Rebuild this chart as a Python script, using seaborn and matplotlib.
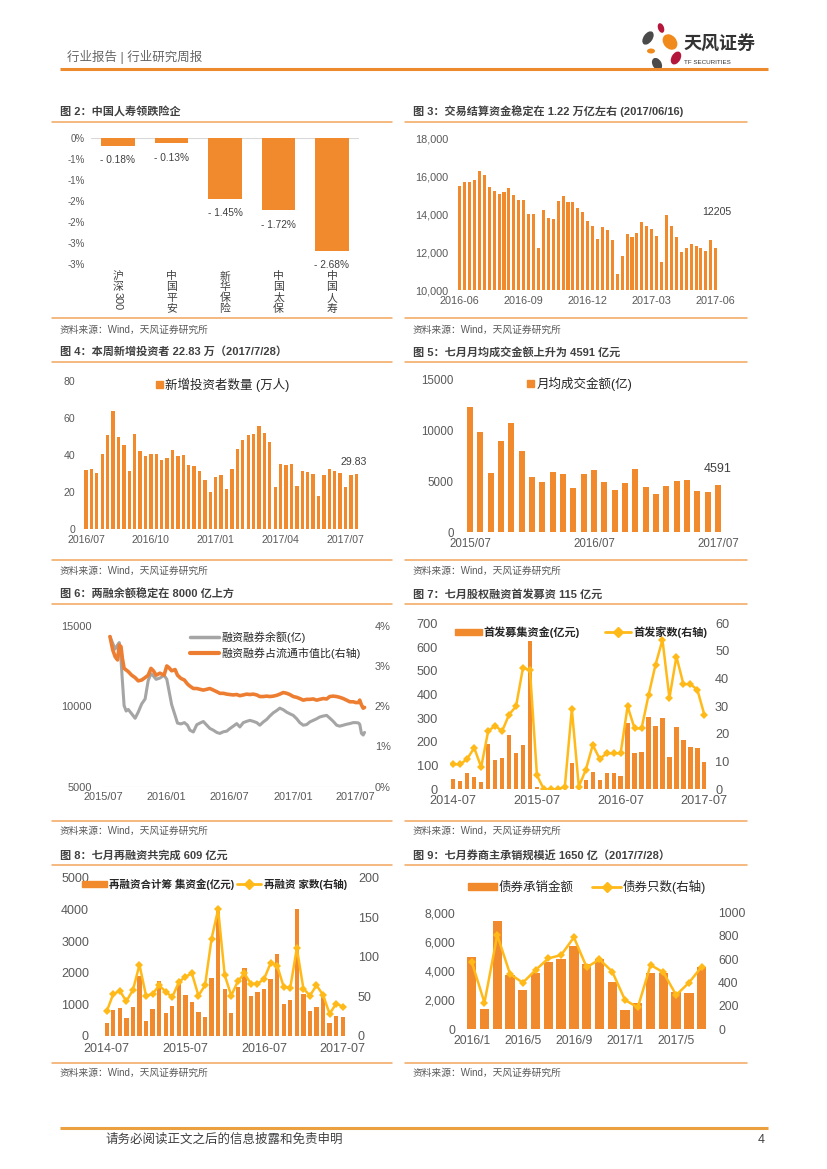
import numpy as np
import pandas as pd
import matplotlib
matplotlib.use('Agg')
import matplotlib.pyplot as plt
import seaborn as sns
from matplotlib.patches import Patch, Ellipse
from matplotlib.lines import Line2D
from matplotlib.transforms import blended_transform_factory

# 图2 险企涨跌幅
ins_names = ['沪深300', '中国平安', '新华保险', '中国太保', '中国人寿']
ins_chg = [-0.18, -0.13, -1.45, -1.72, -2.68]
ins_ticks = ['-3%', '-3%', '-2%', '-2%', '-1%', '-1%', '0%']

# 图3 交易结算资金(亿元), 周度
settle_start = '2016-06-17'
settle_vals = [15490, 15700, 15720, 15810, 16260, 16050, 15440, 15210, 15050, 15170,
               15400, 15020, 14740, 14740, 14000, 14020, 12230, 14210, 13820, 13770,
               14680, 14950, 14650, 14650, 14330, 14100, 13650, 13390, 12680, 13330,
               13160, 12630, 10880, 11810, 12950, 12790, 13030, 13600, 13370, 13210,
               12860, 11510, 13950, 13400, 12820, 12030, 12250, 12460, 12330, 12230,
               12050, 12630, 12205]

# 图4 新增投资者数量(万人), 周度
new_inv = [32.0, 32.2, 30.2, 40.5, 50.7, 63.5, 49.6, 45.1, 31.5, 51.1,
           42.1, 39.2, 40.3, 40.5, 37.1, 38.5, 42.4, 39.4, 39.9, 34.7,
           34.2, 31.1, 26.6, 20.0, 27.9, 29.0, 21.8, 32.4, 43.0, 47.8,
           50.5, 51.3, 55.8, 52.0, 46.9, 22.5, 35.1, 34.5, 35.3, 23.4,
           31.3, 30.6, 29.7, 17.8, 29.3, 32.6, 31.1, 30.0, 22.7, 29.1,
           29.83]
new_inv_ticks = ['2016/07', '2016/10', '2017/01', '2017/04', '2017/07']

# 图5 月均成交金额(亿)
turnover = [12330, 9840, 5850, 8930, 10690, 7980, 5460, 4940, 5890, 5760,
            4350, 5760, 6080, 4940, 4150, 4870, 6210, 4480, 3760, 4510,
            5070, 5130, 4090, 3920, 4591]

# 图6 两融余额(亿) / 占流通市值比(%)
margin_dates = ['2015-07-20', '2015-07-28', '2015-08-04', '2015-08-11', '2015-08-16',
                '2015-08-21', '2015-08-25', '2015-08-30', '2015-09-05', '2015-09-11',
                '2015-09-21', '2015-10-01', '2015-10-10', '2015-10-20', '2015-10-30',
                '2015-11-08', '2015-11-16', '2015-11-23', '2015-12-01', '2015-12-12',
                '2015-12-24', '2016-01-01', '2016-01-07', '2016-01-15', '2016-01-25',
                '2016-02-01', '2016-02-11', '2016-02-21', '2016-03-01', '2016-03-08',
                '2016-03-18', '2016-03-28', '2016-04-06', '2016-04-16', '2016-04-26',
                '2016-05-05', '2016-05-15', '2016-05-25', '2016-06-03', '2016-06-13',
                '2016-06-23', '2016-07-02', '2016-07-12', '2016-07-22', '2016-07-31',
                '2016-08-10', '2016-08-20', '2016-08-29', '2016-09-08', '2016-09-18',
                '2016-09-27', '2016-10-07', '2016-10-17', '2016-10-26', '2016-11-05',
                '2016-11-15', '2016-11-24', '2016-12-04', '2016-12-14', '2016-12-23',
                '2017-01-02', '2017-01-12', '2017-01-21', '2017-01-31', '2017-02-10',
                '2017-02-19', '2017-03-01', '2017-03-11', '2017-03-20', '2017-03-30',
                '2017-04-09', '2017-04-18', '2017-04-28', '2017-05-08', '2017-05-17',
                '2017-05-27', '2017-06-06', '2017-06-15', '2017-06-25', '2017-07-03',
                '2017-07-10', '2017-07-14', '2017-07-19', '2017-07-24', '2017-07-28']
margin_bal = [14330, 13900, 13550, 13800, 13950, 12900, 11600, 10040, 9700, 9800,
              9530, 9250, 9630, 10140, 10450, 11600, 12020, 11880, 11670, 11750,
              11920, 11670, 11000, 10100, 9430, 8950, 8900, 8980, 8820, 8510,
              8400, 8850, 8950, 9050, 8820, 8620, 8510, 8370, 8310, 8410,
              8450, 8610, 8760, 8920, 8710, 8980, 9060, 9120, 9060, 8980,
              8820, 9020, 9180, 9390, 9590, 9730, 9880, 9780, 9630, 9530,
              9430, 9220, 8980, 8820, 8860, 9020, 9120, 9220, 9330, 9390,
              9430, 9260, 9060, 8820, 8760, 8820, 8880, 8920, 8980,
              8980, 8960, 8880, 8310, 8210, 8370]
margin_ratio = [3.73, 3.40, 3.23, 3.15, 3.52, 3.48, 3.19, 2.94, 2.90, 2.86,
                2.77, 2.71, 2.63, 2.65, 2.71, 2.77, 2.94, 2.88, 2.77, 2.82,
                2.77, 3.00, 2.96, 2.88, 2.91, 2.77, 2.69, 2.65, 2.55, 2.50,
                2.44, 2.44, 2.42, 2.40, 2.42, 2.44, 2.40, 2.36, 2.32, 2.32,
                2.30, 2.29, 2.28, 2.29, 2.26, 2.28, 2.30, 2.29, 2.30, 2.28,
                2.24, 2.24, 2.25, 2.24, 2.25, 2.27, 2.30, 2.34, 2.32, 2.29,
                2.24, 2.22, 2.19, 2.15, 2.17, 2.17, 2.18, 2.15, 2.17, 2.19,
                2.18, 2.24, 2.25, 2.24, 2.22, 2.19, 2.15, 2.11, 2.11,
                2.09, 2.09, 2.15, 2.03, 1.95, 1.97]

# 图7 首发募集资金(亿元) / 首发家数, 2014-07 起月度
ipo_amt = [45, 35, 67, 53, 30, 191, 122, 132, 228, 153,
           187, 626, 11, 0, 0, 0, 0, 111, 0, 39,
           73, 39, 70, 67, 58, 278, 152, 157, 306, 266,
           301, 135, 262, 208, 177, 173, 115]
ipo_cnt = [9, 9, 11, 15, 8, 21, 23, 21, 27, 30,
           44, 43, 5, 0, 0, 0, 1, 29, 1, 7,
           16, 11, 13, 13, 13, 30, 22, 22, 34, 45,
           54, 33, 48, 38, 38, 36, 27]

# 图8 再融资合计筹集资金(亿元) / 再融资家数, 2014-07 起月度
refi_amt = [420, 820, 885, 570, 905, 1895, 475, 840, 1725, 725,
            960, 1665, 1295, 1075, 750, 590, 1830, 3980, 1485, 725,
            1560, 2160, 1265, 1380, 1475, 1800, 2580, 1000, 1150, 4000,
            1325, 780, 925, 1240, 420, 630, 609]
refi_cnt = [31, 53, 57, 44, 58, 90, 51, 53, 64, 56,
            49, 68, 75, 79, 51, 64, 123, 160, 77, 51,
            69, 79, 66, 66, 72, 92, 89, 62, 61, 111,
            60, 51, 64, 52, 28, 41, 37]

# 图9 债券承销金额 / 债券只数, 2016-01 起月度
bond_amt = [4975, 1375, 7450, 3710, 2680, 3870, 4580, 4835, 5710, 4470,
            4790, 3210, 1305, 1765, 3830, 3830, 2570, 2500, 4285]
bond_cnt = [579, 226, 808, 473, 398, 507, 607, 636, 788, 530,
            599, 493, 249, 186, 550, 487, 292, 398, 536]

sns.set_theme(style='white')
plt.rcParams['font.family'] = ['Liberation Sans', 'Noto Sans CJK SC', 'DejaVu Sans']
plt.rcParams['axes.unicode_minus'] = False

ORANGE = '#F08A2C'
GOLD = '#FFBA1A'
GREY = '#595959'
DARK = '#404040'
RULE = '#F2A55C'
BAR_KW = dict(color=ORANGE, saturation=1, linewidth=0, edgecolor='none')

W, H = 827, 1169
fig = plt.figure(figsize=(W / 100, H / 100), dpi=100)
fig.patch.set_facecolor('white')

# 整页的像素坐标层
ov = fig.add_axes([0, 0, 1, 1], zorder=10)
ov.set_xlim(0, W)
ov.set_ylim(H, 0)
ov.axis('off')


def box(l, t, r, b):
    a = fig.add_axes([l / W, 1 - b / H, (r - l) / W, (b - t) / H])
    a.patch.set_alpha(0)
    for s in a.spines.values():
        s.set_visible(False)
    return a


def style(a, size, ypad, xpad):
    a.tick_params(axis='both', length=0, labelsize=size, labelcolor=GREY)
    a.tick_params(axis='y', pad=ypad)
    a.tick_params(axis='x', pad=xpad)
    a.set_xlabel('')
    a.set_ylabel('')
    for s in a.spines.values():
        s.set_visible(False)


# 页眉
ov.text(67, 57, '行业报告 | 行业研究周报', fontsize=9, color='#666666', va='center')
ov.plot([60, 768], [69, 69], color='#EE8A2E', lw=2.2, solid_capstyle='butt')
petals = [(648, 38, 9, 15, 35, '#4A4A4A'), (661, 28, 6, 10, -20, '#B5173C'),
          (670, 42, 13, 17, -40, '#F08A1C'), (651, 51, 8, 5, 0, '#F08A1C'),
          (676, 58, 9, 14, 30, '#B5173C'), (657, 64, 9, 13, -30, '#4A4A4A')]
for cx, cy, w, h, ang, col in petals:
    ov.add_patch(Ellipse((cx, cy), w, h, angle=ang, color=col, lw=0))
ov.text(683, 45, '天风证券', fontsize=13, fontweight='bold', color='#333333', va='center')
ov.text(684, 62, 'TF SECURITIES', fontsize=4.5, color='#333333', va='center')

# 各图标题、分隔线、资料来源
panels = [(52, 392, 111, 122, 318, 330, '图 2：中国人寿领跌险企'),
          (405, 747, 111, 122, 318, 330, '图 3：交易结算资金稳定在 1.22 万亿左右 (2017/06/16)'),
          (52, 392, 352, 362, 560, 571, '图 4：本周新增投资者 22.83 万（2017/7/28）'),
          (405, 747, 352, 362, 560, 571, '图 5：七月月均成交金额上升为 4591 亿元'),
          (52, 392, 594, 604, 821, 831, '图 6：两融余额稳定在 8000 亿上方'),
          (405, 747, 594, 604, 821, 831, '图 7：七月股权融资首发募资 115 亿元'),
          (52, 392, 855, 865, 1063, 1073, '图 8：七月再融资共完成 609 亿元'),
          (405, 747, 855, 865, 1063, 1073, '图 9：七月券商主承销规模近 1650 亿（2017/7/28）')]
for x0, x1, yt, yl, yb, ys, title in panels:
    ov.text(x0 + 8, yt, title, fontsize=8, fontweight='bold', color=DARK, va='center')
    ov.plot([x0, x1], [yl, yl], color=RULE, lw=1.1)
    ov.plot([x0, x1], [yb, yb], color=RULE, lw=1.1)
    ov.text(x0 + 8, ys, '资料来源：Wind，天风证券研究所', fontsize=7, color=GREY, va='center')

# ---- 图2 ----
ax = box(91.25, 138, 358.75, 264)
sns.barplot(x=ins_names, y=ins_chg, ax=ax, width=0.62, **BAR_KW)
ax.set_xlim(-0.5, len(ins_names) - 0.5)
ax.set_ylim(-3, 0)
ax.set_yticks(np.arange(-3, 0.01, 0.5))
ax.set_yticklabels(ins_ticks)
ax.set_xticks([])
style(ax, 7, 4.5, 0)
ax.axhline(0, color='#D9D9D9', lw=0.8, zorder=0)
for i, v in enumerate(ins_chg):
    ax.annotate(f'- {abs(v):.2f}%', (i, v), xytext=(0, -14.5), textcoords='offset pixels',
                ha='center', va='center', fontsize=7.3, color=DARK)
bt = blended_transform_factory(ax.transData, ov.transData)
for i, name in enumerate(ins_names):
    head = name.rstrip('0123456789')
    tail = name[len(head):]
    for k, ch in enumerate(head):
        ov.text(i, 276.5 + 10.7 * k, ch, transform=bt, ha='center', va='center',
                fontsize=7.8, color=DARK)
    if tail:
        ov.text(i, 276.5 + 10.7 * len(head) + 3.6, tail, transform=bt, rotation=-90,
                ha='center', va='center', fontsize=7.8, color=DARK)

# ---- 图3 ----
ax = box(457.2, 138.3, 718.2, 290.3)
n = len(settle_vals)
sns.barplot(x=np.arange(n), y=settle_vals, ax=ax, width=0.62, **BAR_KW)
ax.set_xlim(-0.5, n - 0.5)
ax.set_ylim(10000, 18000)
yt = list(range(10000, 18001, 2000))
ax.set_yticks(yt)
ax.set_yticklabels([f'{v:,}' for v in yt])
weeks = pd.date_range(settle_start, periods=n, freq='7D')
ax.set_xticks(range(0, n, 13))
ax.set_xticklabels(weeks[::13].strftime('%Y-%m'))
style(ax, 7.8, 6.5, 4.4)
ax.annotate(f'{settle_vals[-1]}', (n - 1, settle_vals[-1]), xytext=(1, 36),
            textcoords='offset pixels', ha='center', va='center', fontsize=7.6, color=DARK)

# ---- 图4 ----
ax = box(83.3, 380.7, 359, 529)
n = len(new_inv)
sns.barplot(x=np.arange(n), y=new_inv, ax=ax, width=0.62, **BAR_KW)
ax.set_xlim(-0.5, n - 0.5)
ax.set_ylim(0, 80)
ax.set_yticks(range(0, 81, 20))
ax.set_xticks(range(0, n, 12))
ax.set_xticklabels(new_inv_ticks)
style(ax, 7.6, 6, 4.5)
ax.annotate(f'{new_inv[-1]:.2f}', (n - 1, new_inv[-1]), xytext=(-3, 12),
            textcoords='offset pixels', ha='center', va='center', fontsize=7.6, color=DARK)
ax.legend(handles=[Patch(color=ORANGE, label='新增投资者数量 (万人)')], loc='center left',
          bbox_to_anchor=(156, 385), bbox_transform=ov.transData, frameon=False, fontsize=9,
          handlelength=0.55, handleheight=0.55, handletextpad=0.2, borderpad=0, borderaxespad=0)

# ---- 图5 ----
ax = box(464.8, 379.3, 723.2, 532.3)
n = len(turnover)
sns.barplot(x=np.arange(n), y=turnover, ax=ax, width=0.58, **BAR_KW)
ax.set_xlim(-0.5, n - 0.5)
ax.set_ylim(0, 15000)
ax.set_yticks(range(0, 15001, 5000))
months5 = pd.period_range('2015-07', periods=n, freq='M')
ax.set_xticks(range(0, n, 12))
ax.set_xticklabels(months5[::12].strftime('%Y/%m'))
style(ax, 8.3, 7.8, 4.2)
ax.annotate(f'{turnover[-1]}', (n - 1, turnover[-1]), xytext=(0, 16),
            textcoords='offset pixels', ha='center', va='center', fontsize=9, color=DARK)
ax.legend(handles=[Patch(color=ORANGE, label='月均成交金额(亿)')], loc='center left',
          bbox_to_anchor=(527, 384), bbox_transform=ov.transData, frameon=False, fontsize=9,
          handlelength=0.55, handleheight=0.55, handletextpad=0.2, borderpad=0, borderaxespad=0)

# ---- 图6 ----
ax = box(101.7, 625.7, 368, 786.7)
d6 = pd.to_datetime(margin_dates)
sns.lineplot(x=d6, y=margin_bal, ax=ax, color='#A5A5A5', lw=2.2)
ax2 = ax.twinx()
sns.lineplot(x=d6, y=margin_ratio, ax=ax2, color='#ED7D31', lw=2.6)
ax.set_ylim(5000, 15000)
ax.set_yticks([5000, 10000, 15000])
ax2.set_ylim(0, 4)
ax2.set_yticks(range(5))
ax2.set_yticklabels([f'{v}%' for v in range(5)])
ax.set_xlim(pd.Timestamp('2015-06-26'), pd.Timestamp('2017-08-07'))
xt = pd.date_range('2015-07-01', '2017-07-01', freq='6MS')
ax.set_xticks(xt)
ax.set_xticklabels(xt.strftime('%Y/%m'))
style(ax, 7.9, 7.2, 4.1)
style(ax2, 7.9, 5, 4.1)
ax.axhline(5000, color='#D9D9D9', lw=0.8, zorder=0)
ax2.legend(handles=[Line2D([], [], color='#A5A5A5', lw=2.5, label='融资融券余额(亿)'),
                    Line2D([], [], color='#ED7D31', lw=3, label='融资融券占流通市值比(右轴)')],
           loc='upper left', bbox_to_anchor=(190, 631), bbox_transform=ov.transData,
           frameon=False, fontsize=7.9, handlelength=2.6, handletextpad=0.3,
           labelspacing=0.45, borderpad=0, borderaxespad=0)


def bar_line(box_px, amt, cnt, start, lmax, lstep, rmax, rstep, bw, comma=False):
    a = box(*box_px)
    m = len(amt)
    sns.barplot(x=np.arange(m), y=amt, ax=a, width=bw, **BAR_KW)
    b = a.twinx()
    sns.lineplot(x=np.arange(m), y=cnt, ax=b, color=GOLD, lw=1.8, marker='D',
                 markersize=4.2, markeredgewidth=0)
    a.set_xlim(-0.5, m - 0.5)
    a.set_ylim(0, lmax)
    lt = list(range(0, lmax + 1, lstep))
    a.set_yticks(lt)
    a.set_yticklabels([f'{v:,}' if comma else f'{v}' for v in lt])
    b.set_ylim(0, rmax)
    b.set_yticks(range(0, rmax + 1, rstep))
    months = pd.period_range(start, periods=m, freq='M')
    return a, b, months


# ---- 图7 ----
ax, ax2, months7 = bar_line((449.8, 623.3, 707.8, 789.3), ipo_amt, ipo_cnt, '2014-07',
                            700, 100, 60, 10, 0.62)
ax.set_xticks(range(0, len(ipo_amt), 12))
ax.set_xticklabels(months7[::12].strftime('%Y-%m'))
style(ax, 9.2, 8.5, 4.1)
style(ax2, 9.2, 5.2, 4.1)
ax.set_xlim(-0.5, len(ipo_amt) - 0.5)
ax2.legend(handles=[Patch(color=ORANGE, label='首发募集资金(亿元)'),
                    Line2D([], [], color=GOLD, lw=2, marker='D', markersize=5, label='首发家数(右轴)')],
           loc='center left', bbox_to_anchor=(455, 632), bbox_transform=ov.transData, ncol=2,
           frameon=False, prop={'size': 8, 'weight': 'bold'}, handlelength=2.4, handleheight=0.55,
           handletextpad=0.2, columnspacing=2.2, borderpad=0, borderaxespad=0)

# ---- 图8 ----
ax, ax2, months8 = bar_line((103.4, 877.7, 346, 1036), refi_amt, refi_cnt, '2014-07',
                            5000, 1000, 200, 50, 0.66)
ax.set_xticks(range(0, len(refi_amt), 12))
ax.set_xticklabels(months8[::12].strftime('%Y-%m'))
style(ax, 9, 10.4, 5.2)
style(ax2, 9, 8.6, 5.2)
ax.set_xlim(-0.5, len(refi_amt) - 0.5)
ax2.legend(handles=[Patch(color=ORANGE, label='再融资合计筹 集资金(亿元)'),
                    Line2D([], [], color=GOLD, lw=2, marker='D', markersize=5, label='再融资 家数(右轴)')],
           loc='center left', bbox_to_anchor=(82, 884), bbox_transform=ov.transData, ncol=2,
           frameon=False, prop={'size': 7.6, 'weight': 'bold'}, handlelength=2.35, handleheight=0.55,
           handletextpad=0.2, columnspacing=0.25, borderpad=0, borderaxespad=0)

# ---- 图9 ----
ax, ax2, months9 = bar_line((465.3, 912.7, 708.1, 1029), bond_amt, bond_cnt, '2016-01',
                            8000, 2000, 1000, 200, 0.73, comma=True)
ax.set_xticks(range(0, len(bond_amt), 4))
ax.set_xticklabels([f'{p.year}/{p.month}' for p in months9[::4]])
style(ax, 8.7, 7.4, 4.6)
style(ax2, 8.7, 7.2, 4.6)
ax.set_xlim(-0.5, len(bond_amt) - 0.5)
ax2.legend(handles=[Patch(color=ORANGE, label='债券承销金额'),
                    Line2D([], [], color=GOLD, lw=2, marker='D', markersize=5, label='债券只数(右轴)')],
           loc='center left', bbox_to_anchor=(468, 887), bbox_transform=ov.transData, ncol=2,
           frameon=False, fontsize=9, handlelength=2.3, handleheight=0.58,
           handletextpad=0.15, columnspacing=1.5, borderpad=0, borderaxespad=0)

# 页脚
ov.plot([60, 768], [1128, 1128], color='#EBA13F', lw=2.2, solid_capstyle='butt')
ov.text(105, 1140, '请务必阅读正文之后的信息披露和免责申明', fontsize=9, color=DARK, va='center')
ov.text(765, 1140, '4', fontsize=9, color=DARK, va='center', ha='right')

fig.savefig('out.png', dpi=100)
